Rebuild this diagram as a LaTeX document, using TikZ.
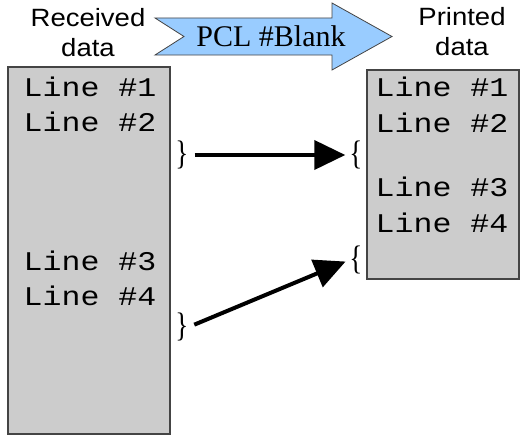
\documentclass[tikz,border=0pt]{standalone}
\usepackage{fontspec}
\setmainfont{Liberation Serif}
\newfontfamily\monofont{Liberation Mono}[FakeStretch=1.17]
\newfontfamily\headfont{Liberation Sans}[FakeStretch=1.1]
\newfontfamily\bracefont{Liberation Serif}[FakeStretch=0.8]
\usetikzlibrary{arrows.meta, positioning}
\definecolor{pclblue}{HTML}{99CCFF}
\definecolor{boxgray}{HTML}{CCCCCC}
\definecolor{edgegray}{HTML}{444444}

\begin{document}
\begin{tikzpicture}[
    x=1pt, y=-1pt,
    databox/.style={fill=boxgray, draw=edgegray, line width=1.3pt},
    dataline/.style={anchor=base, inner sep=0pt,
                     font=\monofont\fontsize{27}{27}\selectfont},
    heading/.style={align=center, inner sep=0pt,
                    font=\headfont\fontsize{25}{30}\selectfont},
    brace/.style={inner sep=0pt, font=\bracefont\fontsize{34}{34}\selectfont},
    jump/.style={line width=4pt, -{Triangle[length=31pt, width=29pt]},
                 shorten <=6pt, shorten >=4pt},
]
    \useasboundingbox (0,0) rectangle (521,436);

    % Headings and the command arrow
    \node[heading] (rcvhead) at (88,33) {Received\\data};
    \node[heading] (prthead) at (462,32) {Printed\\data};
    \draw[fill=pclblue, draw=edgegray, line width=0.8pt]
        (155,18) -- (332,18) -- (332,3) -- (392,36.5) -- (332,70)
        -- (332,55) -- (155,55) -- (184,36.5) -- cycle;
    \node[inner sep=0pt, font=\fontsize{30}{30}\selectfont]
        (pcl) at (271,36) {PCL \#Blank};

    % Received data
    \draw[databox] (8,67) rectangle (170,434);
    \node[dataline] (r1) at (90,96)  {Line \#1};
    \node[dataline] (r2) at (90,131) {Line \#2};
    \node[dataline] (r3) at (90,270) {Line \#3};
    \node[dataline] (r4) at (90,305) {Line \#4};

    % Printed data
    \draw[databox] (367,70) rectangle (519,279);
    \node[dataline] (p1) at (442,96)  {Line \#1};
    \node[dataline] (p2) at (442,132) {Line \#2};
    \node[dataline] (p3) at (442,196) {Line \#3};
    \node[dataline] (p4) at (442,232) {Line \#4};

    % Blank-line groups
    \node[brace] (rcvA) at (182,155) {\}};
    \node[brace] (rcvB) at (182,327) {\}};
    \node[brace] (prtA) at (356,155) {\{};
    \node[brace] (prtB) at (356,260) {\{};

    \draw[jump] (rcvA.east) -- (prtA.west);
    \draw[jump] (rcvB.east) -- (prtB.west);
\end{tikzpicture}
\end{document}
